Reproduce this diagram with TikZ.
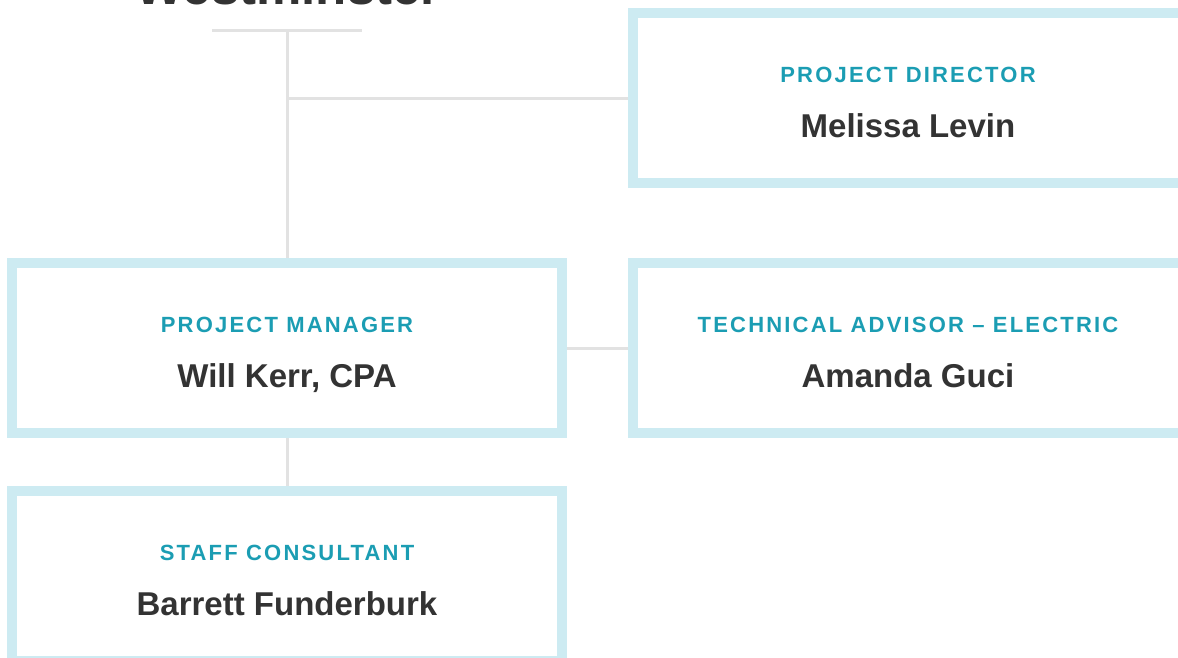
\documentclass[tikz,border=0pt]{standalone}
\usepackage{fontspec}
\setmainfont{Liberation Sans}
\usetikzlibrary{backgrounds}
\definecolor{rimblue}{HTML}{CDEBF2}
\definecolor{roleteal}{HTML}{1B9DB3}
\definecolor{namegray}{HTML}{333333}
\definecolor{linkgray}{HTML}{E2E2E2}
\begin{document}
\begin{tikzpicture}[x=1pt,y=-1pt,thick]
  \tikzstyle{box}=[draw=rimblue,fill=white,line width=10pt,minimum width=550pt,minimum height=170pt]
  \tikzstyle{role}=[anchor=base,text=roleteal,font=\fontsize{22}{26}\selectfont\bfseries\addfontfeature{LetterSpace=10}]
  \tikzstyle{person}=[anchor=base,text=namegray,font=\fontsize{33}{38}\selectfont\bfseries]
  \tikzstyle{link}=[draw=linkgray,line width=3pt]
  \def\dt{16}	% title baseline above box centre
  \def\dn{39}	% name baseline below box centre
  \useasboundingbox (0,0) rectangle (1178,657);
  \node[anchor=base,text=namegray,font=\fontsize{51}{56}\selectfont\bfseries] (org) at (288,4) {Westminster};
  \node[box] (dir) at (908,98) {};
  \node[role] at ([yshift=\dt pt]dir.center) {PROJECT DIRECTOR};
  \node[person] at ([yshift=-\dn pt]dir.center) {Melissa Levin};
  \node[box] (mgr) at (287,348) {};
  \node[role] at ([yshift=\dt pt]mgr.center) {PROJECT MANAGER};
  \node[person] at ([yshift=-\dn pt]mgr.center) {Will Kerr, CPA};
  \node[box] (tech) at (908,348) {};
  \node[role] at ([yshift=\dt pt]tech.center) {TECHNICAL ADVISOR -- ELECTRIC};
  \node[person] at ([yshift=-\dn pt]tech.center) {Amanda Guci};
  \node[box] (staff) at (287,576) {};
  \node[role] at ([yshift=\dt pt]staff.center) {STAFF CONSULTANT};
  \node[person] at ([yshift=-\dn pt]staff.center) {Barrett Funderburk};
  \begin{scope}[on background layer]
    \path (mgr.north) ++(0,-228) coordinate (top);
    \draw[link] (top) ++(-75,0) -- ++(150,0);
    \draw[link] (top) -- (mgr.north);
    \draw[link] (dir.west) -- (dir.west -| mgr.north);
    \draw[link] (mgr.east) -- (tech.west);
    \draw[link] (mgr.south) -- (staff.north);
  \end{scope}
\end{tikzpicture}
\end{document}
